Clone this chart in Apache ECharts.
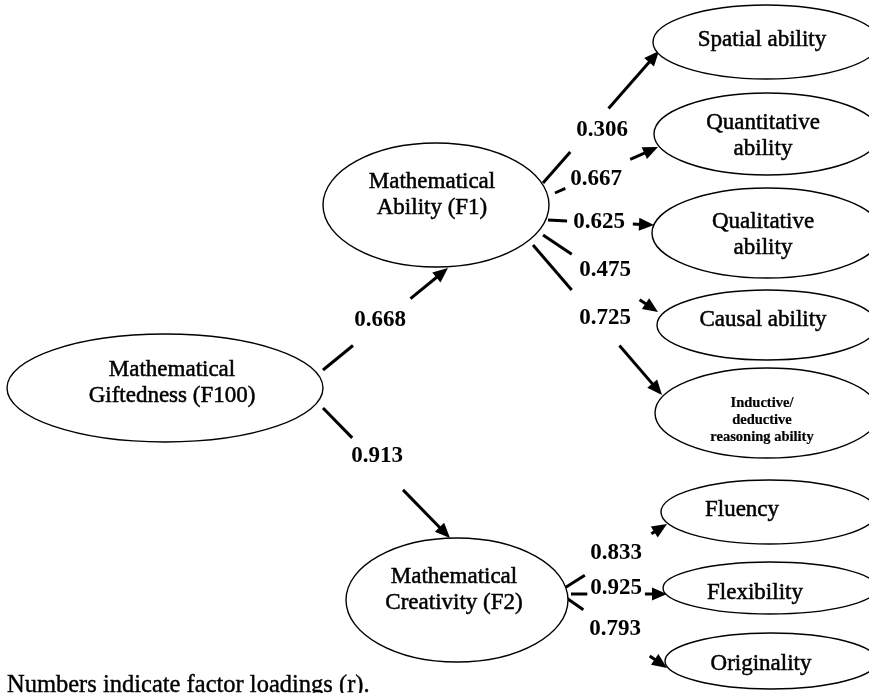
<!DOCTYPE html>
<html style="height: 100%">
<head>
    <meta charset="utf-8">
</head>
<body style="height: 100%; margin: 0; background: #fff">
<div id="container" style="width: 869px; height: 693px"></div>
<script type="text/javascript" src="https://cdn.jsdelivr.net/npm/echarts@6/dist/echarts.min.js"></script>
<script type="text/javascript">
// nodes of the model (latent factors + indicators)
var nodeNames = ['F100', 'F1', 'F2', 'Spatial', 'Quantitative', 'Qualitative', 'Causal', 'Inductive', 'Fluency', 'Flexibility', 'Originality'];
var nodeLabels = [
    'Mathematical\nGiftedness (F100)',
    'Mathematical\nAbility (F1)',
    'Mathematical\nCreativity (F2)',
    'Spatial ability',
    'Quantitative\nability',
    'Qualitative\nability',
    'Causal ability',
    'Inductive/\ndeductive\nreasoning ability',
    'Fluency',
    'Flexibility',
    'Originality'
];
// paths and factor loadings
var pathSource = ['F100', 'F100', 'F1', 'F1', 'F1', 'F1', 'F1', 'F2', 'F2', 'F2'];
var pathTarget = ['F1', 'F2', 'Spatial', 'Quantitative', 'Qualitative', 'Causal', 'Inductive', 'Fluency', 'Flexibility', 'Originality'];
var loadings = [0.668, 0.913, 0.306, 0.667, 0.625, 0.475, 0.725, 0.833, 0.925, 0.793];
var footnote = 'Numbers indicate factor loadings (r).';

// layout in diagram units: ellipse [cx, cy, rx, ry, labelX, labelY]
var nodeLayout = {
    F100: [165, 388, 158, 54, 172, 383],
    F1: [436, 205, 113, 62, 432, 195],
    F2: [457, 600, 111, 62, 454, 590],
    Spatial: [766, 42, 113, 37, 762, 40],
    Quantitative: [767, 134, 113, 41, 763, 136],
    Qualitative: [767, 233, 115, 45, 763, 235],
    Causal: [767, 325, 110, 35, 763, 320],
    Inductive: [767, 413, 112, 45, 762, 420],
    Fluency: [769, 512, 108, 32, 742, 510],
    Flexibility: [770, 588, 107, 26, 755, 593],
    Originality: [771, 661, 106, 28, 761, 664]
};
// arrow layout: [x1, y1, x2, y2, gapFrom, gapTo, labelX, labelY]
var pathLayout = [
    [323, 370, 448, 268, 0.24, 0.70, 380, 320],
    [323, 408, 450, 538, 0.23, 0.63, 377, 456],
    [543, 183, 659, 51, 0.235, 0.565, 602, 130],
    [555, 193, 658, 147, 0.10, 0.73, 596, 179],
    [548, 220, 654, 225, 0.18, 0.80, 599, 222],
    [543, 235, 658, 312, 0.25, 0.84, 605, 270],
    [533, 245, 662, 395, 0.30, 0.67, 605, 318],
    [563, 589, 667, 524, 0.21, 0.85, 616, 553],
    [571, 594, 667, 594, 0.17, 0.77, 616, 588],
    [565, 597, 667, 668, 0.18, 0.83, 615, 629]
];

var dom = document.getElementById('container');
var myChart = echarts.init(dom);

function renderNode(params, api) {
    var i = params.dataIndex;
    var L = nodeLayout[nodeNames[i]];
    var c = api.coord([L[0], L[1]]);
    var s = api.size([L[2], L[3]], [L[0], L[1]]);
    var t = api.coord([L[4], L[5]]);
    var small = nodeNames[i] === 'Inductive';
    return {
        type: 'group',
        children: [{
            type: 'ellipse',
            shape: {cx: c[0], cy: c[1], rx: s[0], ry: s[1]},
            style: {fill: '#fff', stroke: '#000', lineWidth: 1.4}
        }, {
            type: 'text',
            x: t[0],
            y: t[1],
            style: {
                text: nodeLabels[i],
                fontFamily: 'Liberation Serif',
                fontSize: small ? 14.5 : 23,
                fontWeight: small ? 'bold' : 'normal',
                lineHeight: small ? 17 : 26,
                fill: '#000',
                stroke: '#000',
                lineWidth: small ? 0.2 : 0.5,
                align: 'center',
                verticalAlign: 'middle'
            }
        }]
    };
}

function renderPath(params, api) {
    var i = params.dataIndex;
    var g = pathLayout[i];
    var p1 = api.coord([g[0], g[1]]);
    var p2 = api.coord([g[2], g[3]]);
    var dx = p2[0] - p1[0], dy = p2[1] - p1[1];
    var len = Math.sqrt(dx * dx + dy * dy);
    var ux = dx / len, uy = dy / len;
    var a = [p1[0] + dx * g[4], p1[1] + dy * g[4]];
    var b = [p1[0] + dx * g[5], p1[1] + dy * g[5]];
    var headL = 15, headW = 6.5;
    var base = [p2[0] - ux * headL, p2[1] - uy * headL];
    var lp = api.coord([g[6], g[7]]);
    return {
        type: 'group',
        children: [{
            type: 'line',
            shape: {x1: p1[0], y1: p1[1], x2: a[0], y2: a[1]},
            style: {stroke: '#000', lineWidth: 3}
        }, {
            type: 'line',
            shape: {x1: b[0], y1: b[1], x2: base[0] + ux * 2, y2: base[1] + uy * 2},
            style: {stroke: '#000', lineWidth: 3}
        }, {
            type: 'polygon',
            shape: {points: [[p2[0], p2[1]], [base[0] - uy * headW, base[1] + ux * headW], [base[0] + uy * headW, base[1] - ux * headW]]},
            style: {fill: '#000'}
        }, {
            type: 'text',
            x: lp[0],
            y: lp[1],
            style: {
                text: api.value(1).toFixed(3),
                fontFamily: 'Liberation Serif',
                fontSize: 23,
                fontWeight: 'bold',
                fill: '#000',
                align: 'center',
                verticalAlign: 'middle'
            }
        }]
    };
}

var option = {
    animation: false,
    backgroundColor: '#fff',
    title: {
        text: footnote,
        left: 7,
        top: 673,
        padding: 0,
        textStyle: {
            fontFamily: 'Liberation Serif',
            fontSize: 24.5,
            fontWeight: 'normal',
            color: '#000',
            textBorderColor: '#000',
            textBorderWidth: 0.4
        }
    },
    grid: {left: 0, right: 0, top: 0, bottom: 0},
    xAxis: {type: 'value', min: 0, max: 869, show: false},
    yAxis: {type: 'value', min: 0, max: 693, inverse: true, show: false},
    series: [{
        type: 'custom',
        name: 'paths',
        renderItem: renderPath,
        data: loadings.map(function (v, i) { return [i, v]; }),
        z: 1
    }, {
        type: 'custom',
        name: 'nodes',
        renderItem: renderNode,
        data: nodeNames.map(function (n, i) { return [i, 0]; }),
        z: 2
    }]
};

myChart.setOption(option);
</script>
</body>
</html>
